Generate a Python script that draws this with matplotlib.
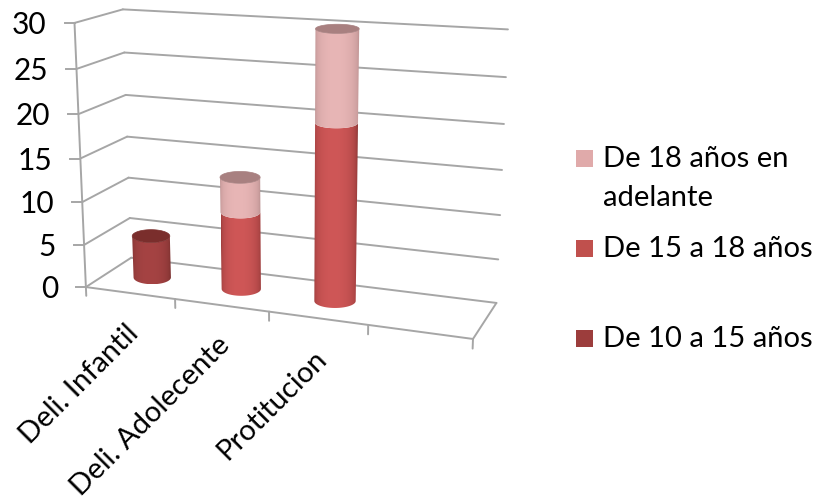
import numpy as np
import matplotlib
matplotlib.use('Agg')
import matplotlib.pyplot as plt
from matplotlib.patches import Polygon, Rectangle

plt.rcParams['font.family'] = ['Lato', 'DejaVu Sans']

categories = ['Deli. Infantil', 'Deli. Adolecente', 'Protitucion']
series_names = ['De 10 a 15 años', 'De 15 a 18 años', 'De 18 años en\nadelante']
de_10_a_15 = [5, 0, 0]
de_15_a_18 = [0, 9, 20]
de_18_mas = [0, 4, 10]
y_ticks = [0, 5, 10, 15, 20, 25, 30]

# centre colour, edge colour, lid colour, legend colour of each series
colors = [('#a54343', '#6f2a29', '#7a2e2c', '#9c3d3c'),
          ('#cf5757', '#7d2d2c', '#8a3534', '#c0504d'),
          ('#e8b6b6', '#a88080', '#a88080', '#e0aaaa')]
grid_color = '#a6a6a6'

# frame of the 3d box: (category, depth, value) -> pixel in the picture
frame_model = [(0, 0, 0), (1, 0, 0), (2, 0, 0), (3, 0, 0), (4, 0, 0), (0, 1, 0), (4, 1, 0),
               (0, 0, 30), (0, 1, 30), (4, 1, 30), (0, 0, 15), (0, 1, 15), (4, 1, 15)]
frame_pixel = [(86, 287), (175, 299), (269, 312), (368, 325), (473, 339), (131, 258), (496.5, 302.5),
               (74, 23), (123, 9.5), (508, 29.5), (81, 158), (127, 136.5), (502, 170)]


# fit a perspective camera to the frame
def fit_camera(model, pixel):
    rows = []
    for (x, d, z), (u, v) in zip(model, pixel):
        rows.append([x, d, z, 1, 0, 0, 0, 0, -u*x, -u*d, -u*z, -u])
        rows.append([0, 0, 0, 0, x, d, z, 1, -v*x, -v*d, -v*z, -v])
    return np.linalg.svd(np.array(rows, dtype=float))[2][-1].reshape(3, 4)


cam = fit_camera(frame_model, frame_pixel)


def project(x, d, z):
    p = cam @ np.array([x, d, z, 1.0])
    return p[0]/p[2], p[1]/p[2]


def box_line(a, b, lw=1.4):
    p, q = project(*a), project(*b)
    ax.plot([p[0], q[0]], [p[1], q[1]], color=grid_color, lw=lw, solid_capstyle='round', zorder=1)


def ellipse_at(x, z):
    # screen ellipse of the cylinder at height z
    cx, cy = project(x, 0.5, z)
    left = project(x-0.215, 0.5, z)[0]
    right = project(x+0.215, 0.5, z)[0]
    ry = 4.6 + (cy-30)/270*2.4
    return (left+right)/2, cy, (right-left)/2, ry


def draw_segment(x, z0, z1, c_mid, c_edge):
    x0, y0, rx0, ry0 = ellipse_at(x, z0)
    x1, y1, rx1, ry1 = ellipse_at(x, z1)
    sweep = np.linspace(-np.pi/2, np.pi/2, 50)
    low = np.c_[x0+rx0*np.sin(sweep), y0+ry0*np.cos(sweep)]
    high = np.c_[x1+rx1*np.sin(sweep), y1+ry1*np.cos(sweep)][::-1]
    outline = np.r_[low, high]

    # shading across the cylinder, dark at both sides
    t = np.linspace(-1, 1, 200)
    shade = np.clip(np.cos(np.arcsin(t)+0.1), 0, 1)[None, :, None]**0.6
    mid = np.array(matplotlib.colors.to_rgb(c_mid))
    edge = np.array(matplotlib.colors.to_rgb(c_edge))
    img = edge*(1-shade) + mid*shade

    clip = Polygon(outline, closed=True, transform=ax.transData)
    left = outline[:, 0].min()
    right = outline[:, 0].max()
    im = ax.imshow(img, extent=(left, right, outline[:, 1].max(), outline[:, 1].min()),
                   aspect='auto', interpolation='bilinear', zorder=3)
    im.set_clip_path(clip)


def draw_lid(x, z, color):
    cx, cy, rx, ry = ellipse_at(x, z)
    t = np.linspace(0, 2*np.pi, 60)
    ax.add_patch(Polygon(np.c_[cx+rx*np.sin(t), cy+ry*np.cos(t)], closed=True, fc=color, ec=color, lw=0.5, zorder=4))


fig = plt.figure(figsize=(8.17, 5.04), dpi=100)
ax = fig.add_axes([0, 0, 1, 1])
ax.axis('off')

# walls and floor
for v in y_ticks:
    box_line((0, 0, v), (0, 1, v))
    box_line((0, 1, v), (4, 1, v))
box_line((0, 0, 0), (0, 0, 30))
box_line((0, 0, 0), (4, 0, 0))
box_line((4, 0, 0), (4, 1, 0))

for i in range(5):
    box_line((i, 0, 0), (i, 0, -1.05))

for v in y_ticks:
    px, py = project(0, 0, v)
    ax.plot([px-10, px], [py, py], color=grid_color, lw=1.4, zorder=1)
    ax.text(px-28, py+2, str(v), ha='right', va='center', fontsize=21.5, color='black')

# cylinders
for i in range(len(categories)):
    bottom = 0
    top_color = None
    for vals, c in zip([de_10_a_15, de_15_a_18, de_18_mas], colors):
        if vals[i] > 0:
            draw_segment(i+0.5, bottom, bottom+vals[i], c[0], c[1])
            bottom += vals[i]
            top_color = c[2]
    draw_lid(i+0.5, bottom, top_color)

# category labels
for i, name in enumerate(categories):
    px, py = project(i+0.5, 0, 0)
    ax.text(px-5, py+27, name, rotation=45, rotation_mode='anchor', ha='right', va='top',
            fontsize=21, color='black')

# legend
legend_rows = [(159, 2), (249, 1), (339, 0)]
for name, (y_row, idx) in zip(series_names[::-1], legend_rows):
    ax.add_patch(Rectangle((576, y_row-9), 17, 17, fc=colors[idx][3], ec='none'))
    lines = name.split('\n')
    for k, line in enumerate(lines):
        ax.text(603, y_row+k*39.5, line, ha='left', va='center', fontsize=21)

# imshow resets the limits, so set them last
ax.set_xlim(0, 817)
ax.set_ylim(504, 0)

fig.savefig('out.png', dpi=100)
